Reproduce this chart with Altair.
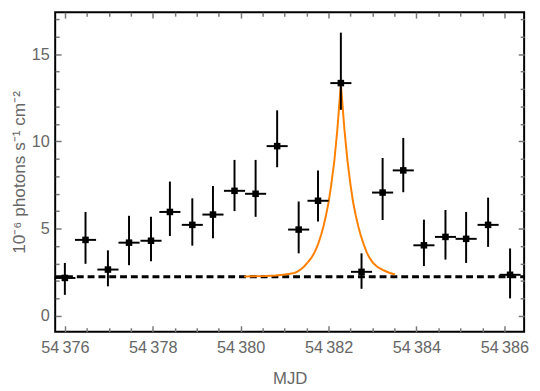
import altair as alt
import pandas as pd

# ---- data ----
mjd = [54376.00, 54376.47, 54376.98, 54377.46, 54377.96, 54378.39, 54378.90,
       54379.37, 54379.86, 54380.34, 54380.83, 54381.32, 54381.76, 54382.28,
       54382.75, 54383.23, 54383.70, 54384.17, 54384.66, 54385.13, 54385.63,
       54386.13]
flux = [2.18, 4.36, 2.66, 4.20, 4.31, 5.96, 5.22, 5.81, 7.17, 7.00, 9.73,
        4.95, 6.60, 13.34, 2.53, 7.07, 8.34, 4.05, 4.53, 4.42, 5.22, 2.36]
flux_hi = [3.04, 5.96, 3.76, 5.74, 5.68, 7.70, 6.74, 7.45, 8.94, 8.94, 11.78,
           6.56, 8.34, 16.23, 3.59, 9.05, 10.20, 5.52, 6.07, 5.96, 6.78, 3.87]
flux_lo = [1.21, 2.99, 1.70, 2.91, 3.13, 4.58, 4.03, 4.45, 6.01, 5.68, 8.52,
           3.59, 5.41, 11.81, 1.56, 5.50, 7.09, 2.86, 3.23, 3.04, 3.96, 1.01]
half_bin = [0.24] * len(mjd)

baseline_level = [2.25]
baseline_start = [54375.78]
baseline_end = [54386.45]

curve_mjd = [54380.08, 54380.56, 54380.80, 54381.01, 54381.12, 54381.23,
             54381.30, 54381.38, 54381.45, 54381.53, 54381.60, 54381.68,
             54381.76, 54381.83, 54381.88, 54381.94, 54382.00, 54382.06,
             54382.13, 54382.20, 54382.28, 54382.36, 54382.43, 54382.50,
             54382.56, 54382.62, 54382.68, 54382.73, 54382.80, 54382.87,
             54382.94, 54383.02, 54383.12, 54383.25, 54383.38, 54383.51]
curve_flux = [2.26, 2.29, 2.32, 2.38, 2.42, 2.47, 2.56, 2.69, 2.85, 3.08,
              3.30, 3.63, 4.10, 4.64, 5.10, 5.74, 6.50, 7.50, 8.85, 10.68,
              13.30, 10.70, 8.90, 7.50, 6.50, 5.74, 5.10, 4.64, 4.10, 3.63,
              3.30, 3.02, 2.80, 2.62, 2.48, 2.38]

x_domain = [54375.78, 54386.45]
y_domain = [-0.9, 17.4]
x_major = [54376, 54378, 54380, 54382, 54384, 54386]
x_minor = [54376 + 0.5 * i for i in range(21) if i % 4 != 0]
y_major = [0, 5, 10, 15]
y_minor = [i for i in range(0, 18) if i % 5 != 0]

# ---- tables ----
pts = pd.DataFrame({
    "mjd": mjd, "flux": flux, "lo": flux_lo, "hi": flux_hi,
    "xlo": [m - h for m, h in zip(mjd, half_bin)],
    "xhi": [m + h for m, h in zip(mjd, half_bin)],
})
base_df = pd.DataFrame({"start": baseline_start, "end": baseline_end, "level": baseline_level})
curve_df = pd.DataFrame({"t": curve_mjd, "f": curve_flux})

FONT = "Liberation Sans"
TXT = "#666666"
TICK = "#777777"

xs = alt.Scale(domain=x_domain, nice=False, zero=False)
ys = alt.Scale(domain=y_domain, nice=False, zero=False)


def tick_axis(orient, values, size):
    return alt.Axis(orient=orient, values=values, labels=False, domain=False,
                    grid=False, ticks=True, tickSize=size, tickColor=TICK,
                    tickWidth=1.5, offset=-size, title=None)


x_label_axis = alt.Axis(
    orient="bottom", values=x_major, ticks=False, domain=False, grid=False,
    labelExpr="replace(format(datum.value, ','), ',', '\u2009')",
    labelFont=FONT, labelFontSize=16.5, labelColor=TXT, labelPadding=8,
    labelFlush=False, labelOverlap=False,
    title="MJD", titleFont=FONT, titleFontSize=17, titleColor=TXT,
    titleFontWeight="normal", titlePadding=15)

y_label_axis = alt.Axis(
    orient="left", values=y_major, ticks=False, domain=False, grid=False,
    labelFont=FONT, labelFontSize=16.5, labelColor=TXT, labelPadding=6,
    labelFlush=False, labelOverlap=False,
    title="10⁻⁶ photons s⁻¹ cm⁻²", titleFont=FONT, titleFontSize=17.5,
    titleColor=TXT, titleFontWeight="normal", titlePadding=3)

baseline = alt.Chart(base_df).mark_rule(
    color="black", strokeWidth=3, strokeDash=[7, 4]).encode(
    x=alt.X("start:Q", scale=xs, axis=tick_axis("top", x_major, 6)),
    x2="end:Q",
    y=alt.Y("level:Q", scale=ys, axis=tick_axis("right", y_major, 6)),
)

curve = alt.Chart(curve_df).mark_line(color="#FF8000", strokeWidth=2).encode(
    x=alt.X("t:Q", scale=xs, axis=tick_axis("top", x_minor, 4)),
    y=alt.Y("f:Q", scale=ys, axis=tick_axis("right", y_minor, 4)),
    order="t:Q",
)

xerr = alt.Chart(pts).mark_rule(color="black", strokeWidth=2).encode(
    x=alt.X("xlo:Q", scale=xs, axis=tick_axis("bottom", x_major, 6)),
    x2="xhi:Q",
    y=alt.Y("flux:Q", scale=ys, axis=tick_axis("left", y_major, 6)),
)

yerr = alt.Chart(pts).mark_rule(color="black", strokeWidth=2).encode(
    x=alt.X("mjd:Q", scale=xs, axis=tick_axis("bottom", x_minor, 4)),
    y=alt.Y("lo:Q", scale=ys, axis=tick_axis("left", y_minor, 4)),
    y2="hi:Q",
)

points = alt.Chart(pts).mark_square(size=44, color="black", opacity=1).encode(
    x=alt.X("mjd:Q", scale=xs, axis=x_label_axis),
    y=alt.Y("flux:Q", scale=ys, axis=y_label_axis),
)

chart = alt.layer(baseline, curve, xerr, yerr, points).resolve_axis(
    x="independent", y="independent"
).properties(
    width=477, height=325,
    autosize=alt.AutoSizeParams(type="none"),
    padding={"left": 48, "top": 1, "right": 8, "bottom": 56},
    background="white",
).configure_view(stroke="black", strokeWidth=2)

chart.save("out.html", embed_options={"renderer": "svg", "actions": False})
